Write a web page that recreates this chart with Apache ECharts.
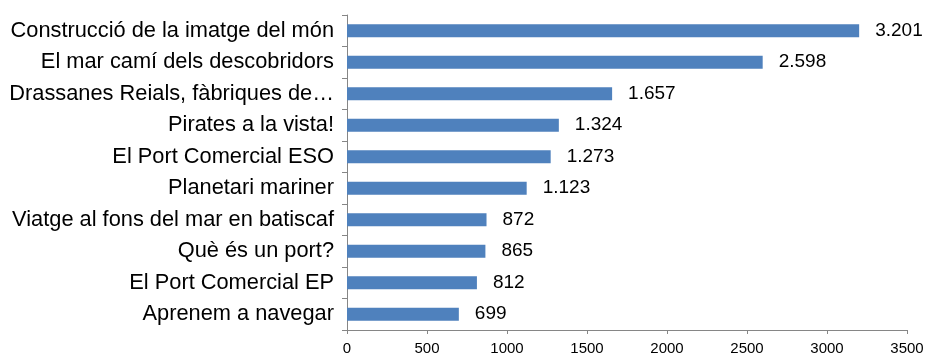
<!DOCTYPE html>
<html><head><meta charset="utf-8">
<script src="https://cdn.jsdelivr.net/npm/echarts@6/dist/echarts.min.js"></script>
<style>html,body{margin:0;padding:0;background:#fff}#c{width:928px;height:356px}</style>
</head><body><div id="c"></div>
<script>
const categories = [
  "Construcció de la imatge del món",
  "El mar camí dels descobridors",
  "Drassanes Reials, fàbriques de…",
  "Pirates a la vista!",
  "El Port Comercial ESO",
  "Planetari mariner",
  "Viatge al fons del mar en batiscaf",
  "Què és un port?",
  "El Port Comercial EP",
  "Aprenem a navegar"
];
const values = [3201, 2598, 1657, 1324, 1273, 1123, 872, 865, 812, 699];
const xTicks = [0, 500, 1000, 1500, 2000, 2500, 3000, 3500];

function fmt(v){ return String(v).replace(/\B(?=(\d{3})+(?!\d))/g, '.'); }

const FONT = 'Liberation Sans, Arial, sans-serif';
const chart = echarts.init(document.getElementById('c'));
chart.setOption({
  animation: false,
  textStyle: { fontFamily: FONT },
  grid: { left: 347, right: 21, top: 15, bottom: 26, containLabel: false },
  xAxis: {
    type: 'value', min: xTicks[0], max: xTicks[xTicks.length-1], interval: 500,
    splitLine: { show: false },
    axisLine: { show: true, lineStyle: { color: '#868686', width: 1 } },
    axisTick: { show: true, length: 4, lineStyle: { color: '#868686' } },
    axisLabel: { color: '#000', fontSize: 15, margin: 11, fontFamily: FONT,
      formatter: v => String(v) }
  },
  yAxis: {
    type: 'category', data: categories, inverse: true,
    axisLine: { show: true, lineStyle: { color: '#868686', width: 1 } },
    axisTick: { show: true, length: 5, lineStyle: { color: '#868686' } },
    axisLabel: { color: '#000', fontSize: 21.8, margin: 13, fontFamily: FONT }
  },
  series: [{
    type: 'bar', data: values, barWidth: 13,
    itemStyle: { color: '#4F81BD' },
    label: { show: true, position: 'right', distance: 16, color: '#000', fontSize: 19,
      fontFamily: FONT,
      formatter: p => fmt(p.value) }
  }]
});
</script></body></html>
